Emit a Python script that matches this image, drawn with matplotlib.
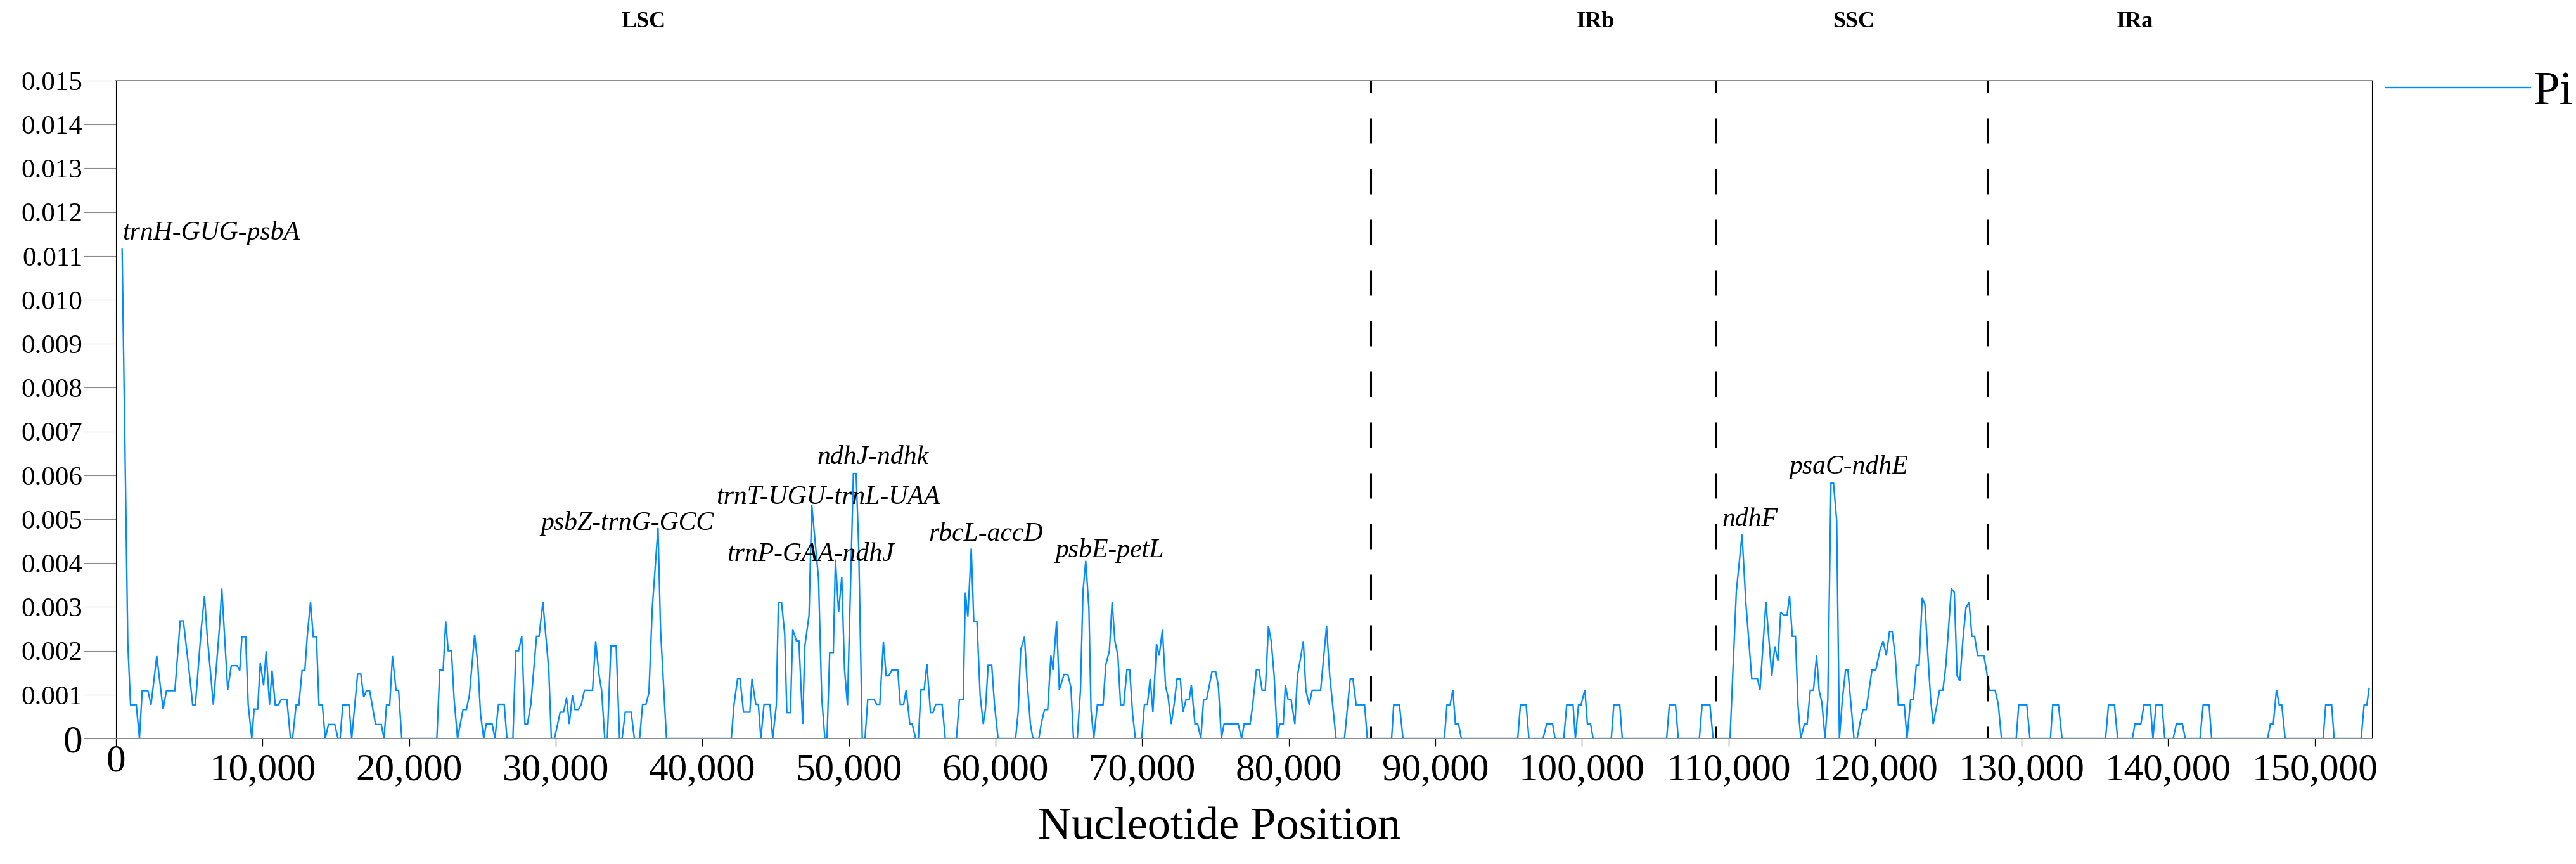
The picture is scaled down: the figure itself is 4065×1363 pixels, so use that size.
import matplotlib
matplotlib.use("Agg")
import matplotlib.pyplot as plt
from matplotlib.transforms import blended_transform_factory

plt.rcParams['font.family'] = ['Liberation Serif', 'DejaVu Serif']
plt.rcParams['lines.scale_dashes'] = False

# ---------------- data ----------------
position = [
    418, 807, 994, 1383, 1600, 1787, 2176, 2392, 2781, 3213, 3444, 4020, 4381, 4597, 4986, 5231, 5418,
    5822, 6038, 6211, 6643, 7047, 7219, 7623, 7868, 8257, 8444, 8589, 8848, 9021, 9266, 9424, 9669,
    9842, 10073, 10246, 10476, 10649, 10865, 11081, 11283, 11658, 11903, 12047, 12292, 12479, 12695,
    12883, 13055, 13272, 13459, 13675, 13848, 14079, 14280, 14496, 14929, 15145, 15289, 15476, 15894,
    16082, 16485, 16701, 16903, 17090, 17306, 17710, 18099, 18286, 18459, 18675, 18862,
    19108, 19281, 19497, 21889, 22091, 22321, 22494, 22667, 22883, 23070, 23301, 23676, 23906, 24108,
    24468, 24684, 24872, 25088, 25261, 25664, 25852, 26097, 26486, 26673, 27077, 27278, 27466, 27682,
    27898, 28071, 28302, 28691, 28864, 29123, 29526, 29699, 29915, 30304, 30535, 30737, 30924, 31140,
    31313, 31544, 31745, 31962, 32509, 32725, 32941, 33128, 33345, 33518, 33763, 34123, 34354, 34526,
    34743, 35146, 35362, 35722, 35924, 36155, 36356, 36587, 36976, 37149, 37553,
    41976, 42164, 42409, 42567, 42812, 43244, 43389, 43648, 43821, 43994, 44210, 44613, 44801, 45046,
    45190, 45406, 45622, 45766, 46011, 46170, 46415, 46588, 46848, 46991, 47280, 47467, 47928, 48144,
    48360, 48504, 48691, 48936, 49080, 49296, 49513, 49700, 49902, 50306, 50493, 50666, 50911, 51099,
    51286, 51718, 51890, 52107, 52352, 52539, 52726, 52928, 53332, 53504, 53735, 53908, 54153, 54311,
    54556, 54743, 54916, 55132, 55320, 55565, 55737, 55925, 56357, 56573,
    57337, 57539, 57799, 57943, 58115, 58346, 58519, 58735, 58951, 59168, 59312, 59499, 59744, 59931,
    60176, 61372, 61545, 61718, 61977, 62150, 62381, 62554, 62957, 63130, 63346, 63562, 63779, 63923,
    64168, 64355, 64672, 64931, 65148, 65321, 65580, 65796, 65969, 66157, 66373, 66517, 66704, 66949,
    67338, 67525, 67770, 67958, 68145, 68347, 68534, 68750, 68966, 69154, 69355, 69543, 69975, 70162,
    70364, 70551, 70739, 70984, 71171, 71387, 71604, 71777, 71993, 72209, 72382, 72613, 72786, 73002,
    73218, 73362, 73607, 73794, 74010, 74197, 74399, 74774, 75019, 75206, 75408, 75595,
    76560, 76791, 76964, 77368, 77541, 77800, 77973, 78189, 78405, 78621, 78808, 79010, 79226, 79385,
    79630, 79774, 79961, 80163, 80422, 80595, 80783, 80999, 81172, 81402, 81604, 82180, 82368, 82584,
    82800, 83232, 83809, 84198, 84385, 84601, 85178, 85365, 87022, 87166, 87555, 87800, 90624, 90797,
    91014, 91201, 91374, 91590, 91777,
    95625, 95812, 96201, 96388, 97354, 97599, 98002, 98175, 98766, 98968, 99400, 99559, 99775, 99948,
    100207, 100380, 100596, 100769, 102009, 102181, 102585, 102758, 105784, 105971, 106389, 106576,
    108017, 108204, 108738, 108954, 110107, 110539, 110928, 111188, 111591, 111980, 112153, 112557,
    112960, 113162, 113378, 113565, 113781, 113997, 114170,
    114357, 114573, 114747, 114934, 115179, 115366, 115583, 115799, 116015, 116188, 116375, 116591,
    116779, 116995, 117168, 117384, 117571, 117773, 117989, 118148, 118349, 118566, 118782, 118969,
    119185, 119401, 119589, 119791, 120050, 120338, 120554, 120770, 120987, 121174, 121376, 121592,
    121995, 122183, 122427, 122615, 122816, 123004, 123220, 123407, 123609, 123796, 123969, 124229,
    124402, 124632, 124834, 125208, 125410, 125598, 125785, 125987, 126203, 126419, 126607, 126794,
    126996, 127428, 127615, 127802, 128191, 128408, 128624, 129633, 129806, 130353, 130569, 131967,
    132125, 132514, 132759,
    135728, 135929, 136333, 136549, 137558, 137731, 138134, 138350, 138783, 138956, 139172, 139575,
    139763, 140339, 140555, 140973, 141160, 142169, 142385, 142789, 142962, 146780, 146968, 147169,
    147386, 147573, 147746, 147977, 150571, 150744, 151148, 151320, 153164, 153366, 153553, 153697,
]

pi = [
    0.01115, 0.00217, 0.00077, 0.00077, 0, 0.00109, 0.00109, 0.00077, 0.00188, 0.00067, 0.00109, 0.00109, 0.00268, 0.00268, 0.00155, 0.00077, 0.00077,
    0.00252, 0.00325, 0.0024, 0.00077, 0.00248, 0.00342, 0.00111, 0.00166, 0.00166, 0.00155, 0.00232, 0.00232, 0.00077, 0, 0.00067, 0.00067,
    0.00172, 0.00121, 0.00199, 0.00077, 0.00155, 0.00077, 0.00077, 0.00089, 0.00089, 0, 0, 0.00077, 0.00077, 0.00155,
    0.00155, 0.00236, 0.00311, 0.00232, 0.00232, 0.00077, 0.00077, 0, 0.00032, 0.00032, 0, 0, 0.00077, 0.00077,
    0, 0.00147, 0.00147, 0.00094, 0.00109, 0.00109, 0.00032, 0.00032, 0, 0.00077, 0.00077, 0.00188,
    0.0011, 0.0011, 0, 0, 0.00156, 0.00156, 0.00267, 0.002, 0.002, 0.00089, 0, 0.00066, 0.00066, 0.00098,
    0.00237, 0.0017, 0.00055, 0, 0.00033, 0.00033, 0, 0.00078, 0.00078, 0, 0, 0.002, 0.002, 0.00233,
    0.00033, 0.00033, 0.00078, 0.00233, 0.00233, 0.00311, 0.00156, 0, 0, 0.0006, 0.0006, 0.00093, 0.00033, 0.00099,
    0.00066, 0.00066, 0.00078, 0.0011, 0.0011, 0.00222, 0.00148, 0.0011, 0, 0, 0.00211, 0.00211, 0, 0,
    0.0006, 0.0006, 0, 0, 0.00078, 0.00078, 0.00104, 0.00298, 0.0048, 0.00249, 0,
    0, 0.00078, 0.00137, 0.00137, 0.0006, 0.0006, 0.00136, 0.00078, 0.00078, 0, 0.00078, 0.00078, 0, 0.00075,
    0.0031, 0.0031, 0.00237, 0.00059, 0.00059, 0.00248, 0.00223, 0.00223, 0.00033, 0.0021, 0.00281, 0.00532, 0.00364, 0.00094,
    0, 0, 0.00196, 0.00196, 0.00408, 0.00288, 0.00368, 0.00158, 0.00076, 0.00604, 0.00604, 0.00438, 0, 0,
    0.00089, 0.00089, 0.00078, 0.00078, 0.00221, 0.00143, 0.00143, 0.00156, 0.00156, 0.00078, 0.00078, 0.00111, 0.00033, 0.00033,
    0, 0, 0.00111, 0.00111, 0.0017, 0.00059, 0.00059, 0.00078, 0.00078, 0,
    0, 0.00089, 0.00089, 0.00333, 0.00278, 0.00433, 0.00267, 0.00267, 0.00099, 0.00033, 0.00065, 0.00167, 0.00167, 0.00078,
    0, 0, 0.0006, 0.00202, 0.00232, 0.00134, 0.00033, 0, 0, 0.00035, 0.00066, 0.00066, 0.00189, 0.00156,
    0.00267, 0.00111, 0.00146, 0.00146, 0.00116, 0, 0, 0.00109, 0.00335, 0.00405, 0.00296, 0.00065, 0, 0.00077,
    0.00077, 0.00168, 0.002, 0.00311, 0.00222, 0.0019, 0.00077, 0.00077, 0.00157, 0.00157, 0.00055, 0, 0, 0.00078,
    0.00078, 0.00136, 0.0006, 0.00215, 0.00189, 0.00248, 0.00119, 0.00094, 0.00033, 0.00084, 0.00136, 0.00136, 0.0006, 0.00089,
    0.00089, 0.00122, 0.00033, 0.00033, 0, 0.00089, 0.00089, 0.00153, 0.00153, 0.00119, 0, 0.00033,
    0.00033, 0, 0.00033, 0.00033, 0.00075, 0.00157, 0.00157, 0.0011, 0.0011, 0.00256, 0.00222, 0.00143, 0, 0.00033,
    0.00033, 0.00122, 0.00089, 0.00089, 0.00033, 0.00143, 0.00178, 0.00222, 0.0011, 0.00077, 0.0011, 0.0011, 0.00178, 0.00256,
    0.00143, 0, 0, 0.00136, 0.00136, 0.00077, 0.00077, 0, 0, 0.00077, 0.00077, 0, 0, 0.00077,
    0.00077, 0.00111, 0.00033, 0.00033, 0,
    0, 0.00077, 0.00077, 0, 0, 0.00033, 0.00033, 0, 0, 0.00077, 0.00077, 0, 0.00077, 0.00077,
    0.00111, 0.00033, 0.00033, 0, 0, 0.00077, 0.00077, 0, 0, 0.00077, 0.00077, 0,
    0, 0.00077, 0.00077, 0, 0, 0.00335, 0.00465, 0.0031, 0.00137, 0.00137, 0.0011, 0.00311,
    0.00143, 0.0021, 0.00178, 0.00288, 0.00281, 0.00281, 0.00325,
    0.00233, 0.00233, 0.00075, 0, 0.00033, 0.00033, 0.0011, 0.0011, 0.00189, 0.00109, 0.00082, 0,
    0.00089, 0.00582, 0.00582, 0.00497, 0, 0.00089, 0.00156, 0.00156, 0.00082, 0, 0, 0.00035,
    0.00066, 0.00066, 0.0011, 0.00156, 0.00156, 0.00202, 0.00222, 0.00189, 0.00244, 0.00244, 0.00188, 0.00077,
    0.00077, 0, 0.00089, 0.00089, 0.00167, 0.00167, 0.00321, 0.00305, 0.00189, 0.00089, 0.00033, 0.00077,
    0.0011, 0.0011, 0.00167, 0.00342, 0.00333, 0.00143, 0.00131, 0.00222, 0.00298, 0.0031, 0.00233, 0.00233,
    0.00189, 0.00189, 0.00153, 0.0011, 0.0011, 0.00078, 0, 0, 0.00077, 0.00077, 0, 0,
    0.00077, 0.00077, 0,
    0, 0.00077, 0.00077, 0, 0, 0.00033, 0.00033, 0.00077, 0.00077, 0, 0.00077, 0.00077,
    0, 0, 0.00033, 0.00033, 0, 0, 0.00077, 0.00077, 0, 0, 0.00033, 0.00033,
    0.00111, 0.00077, 0.00077, 0, 0, 0.00077, 0.00077, 0, 0, 0.00077, 0.00077, 0.00114,
]

region_bounds = [85610, 109142, 127658]
region_names = ['LSC', 'IRb', 'SSC', 'IRa']
region_label_x = [35970, 100940, 118540, 137730]

hotspot_names = ['trnH-GUG-psbA', 'psbZ-trnG-GCC', 'trnT-UGU-trnL-UAA', 'ndhJ-ndhk',
                 'trnP-GAA-ndhJ', 'rbcL-accD', 'psbE-petL', 'ndhF', 'psaC-ndhE']
hotspot_x = [432, 28964, 40939, 47856, 41661, 55421, 64067, 109588, 114127]
hotspot_y = [0.01137, 0.00475, 0.00535, 0.00626, 0.00405, 0.00451, 0.00413, 0.00484, 0.00604]

x_ticks = list(range(0, 150001, 10000))
x_tick_labels = ['0'] + [f'{v:,}' for v in x_ticks[1:]]
y_ticks = [i / 1000 for i in range(16)]
y_tick_labels = ['0'] + [f'{v:.3f}' for v in y_ticks[1:]]

# ---------------- figure ----------------
W, H = 4065, 1363
fig = plt.figure(figsize=(W / 100, H / 100), dpi=100)
ax = fig.add_axes([183 / W, 1 - 1165 / H, (3743 - 183) / W, (1165 - 127) / H])

line_color = '#008CFF'
ax.plot(position, pi, color=line_color, lw=1.7, label='Pi', solid_joinstyle='miter')

ax.set_xlim(0, 153900)
ax.set_ylim(0, 0.015)

for b in region_bounds:
    ax.axvline(b, color='black', lw=2.2, linestyle=(15.1, (28.8, 28.8)))

ax.set_xticks(x_ticks)
ax.set_xticklabels(x_tick_labels, fontsize=44)
ax.set_yticks(y_ticks)
ax.set_yticklabels(y_tick_labels, fontsize=31)
for lbl in ax.get_yticklabels():
    if lbl.get_text() == '0':
        lbl.set_fontsize(44)

ax.tick_params(axis='y', direction='out', length=37, width=0.8, color='#8a8a8a', pad=1)
ax.tick_params(axis='x', direction='out', length=8.6, width=0.9, color='black', pad=8)
ax.xaxis.get_major_ticks()[0].set_pad(-2)

for side in ['top', 'bottom']:
    ax.spines[side].set_color('#8a8a8a')
    ax.spines[side].set_linewidth(1.4)
for side in ['left', 'right']:
    ax.spines[side].set_color('black')
    ax.spines[side].set_linewidth(0.8)

ax.set_xlabel('Nucleotide Position', fontsize=52)
ax.xaxis.set_label_coords((1924 - 183) / (3743 - 183), -(1323 - 1165) / (1165 - 127))
ax.xaxis.label.set_verticalalignment('baseline')

for name, hx, hy in zip(hotspot_names, hotspot_x, hotspot_y):
    ax.text(hx, hy, name, fontsize=30, fontstyle='italic', ha='left', va='baseline')

trans = blended_transform_factory(ax.transData, fig.transFigure)
for name, rx in zip(region_names, region_label_x):
    ax.text(rx, 1 - 43 / H, name, transform=trans, fontsize=26, fontweight='bold',
            ha='center', va='baseline', clip_on=False)

fig.legend(loc='center left', bbox_to_anchor=(3765 / W, 1 - 146 / H), frameon=False,
           fontsize=54, handlelength=3.04, handletextpad=0.07, borderpad=0, borderaxespad=0)

fig.savefig('out.png', dpi=100)
